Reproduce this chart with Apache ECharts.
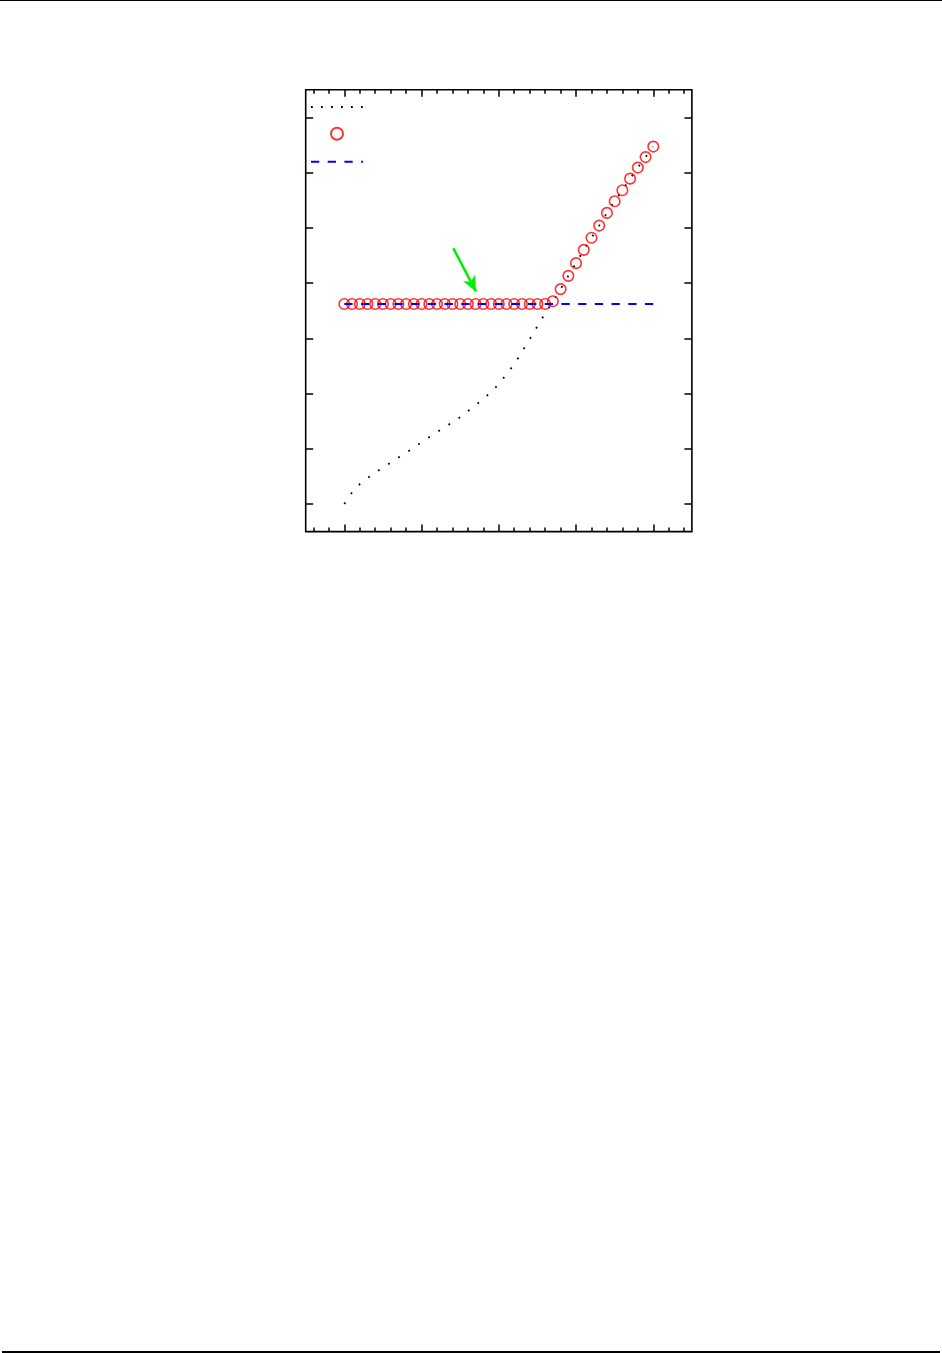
<!DOCTYPE html>
<html>
<head>
<meta charset="utf-8">
<script src="https://cdn.jsdelivr.net/npm/echarts@6/dist/echarts.min.js"></script>
<style>
  html, body { margin: 0; padding: 0; background: #fff; }
  #wrap { position: relative; width: 942px; height: 1353px; overflow: hidden; }
  #chart { position: absolute; left: 0; top: 0; width: 942px; height: 1353px; }
  #topRule { position: absolute; left: 0; top: 0; width: 942px; height: 1px; background: #000; }
  #bottomRule { position: absolute; left: 2px; top: 1351px; width: 938px; height: 2px; background: #000; }
</style>
</head>
<body>
<div id="wrap">
  <div id="chart"></div>
  <div id="topRule"></div>
  <div id="bottomRule"></div>
</div>
<script>
// ---- data ----
const xValues = [0,1,2,3,4,5,6,7,8,9,10,11,12,13,14,15,16,17,18,19,20,
                 21,22,23,24,25,26,27,28,29,30,31,32,33,34,35,36,37,38,39,40];
const curveValues = [0.00,0.21,0.36,0.47,0.57,0.66,0.75,0.84,0.93,1.02,1.12,
                     1.21,1.30,1.39,1.48,1.57,1.68,1.79,1.90,2.03,2.17,
                     2.35,2.53,2.76,2.98,3.22,3.45,3.67,3.89,4.13,4.36,
                     4.60,4.82,5.04,5.27,5.48,5.68,5.89,6.09,6.28,6.47];
const circleValues = [3.62,3.62,3.62,3.62,3.62,3.62,3.62,3.62,3.62,3.62,3.62,
                      3.62,3.62,3.62,3.62,3.62,3.62,3.62,3.62,3.62,3.62,
                      3.62,3.62,3.62,3.62,3.62,3.62,3.67,3.89,4.13,4.36,
                      4.60,4.82,5.04,5.27,5.48,5.68,5.89,6.09,6.28,6.47];
const levelX = [0, 40];
const levelY = [3.62, 3.62];
const arrowFrom = [14.11, 4.63];
const arrowTo = [17.05, 3.847];
const xMajorTicks = [0, 10, 20, 30, 40];
const xMinorTicks = [-4,-2,0,2,4,6,8,10,12,14,16,18,20,22,24,26,28,30,32,34,36,38,40,42,44];
const yTicks = [0, 1, 2, 3, 4, 5, 6, 7];
const xRange = [-5, 45];
const yRange = [-0.5, 7.5];
const seriesNames = ['curve', 'points', 'level'];

const zip = (xs, ys) => xs.map((x, i) => [x, ys[i]]);

const chart = echarts.init(document.getElementById('chart'), null, { renderer: 'canvas' });

function xAxisCfg(position, ticks, len) {
  return {
    type: 'value', position: position, min: xRange[0], max: xRange[1],
    axisLine: { show: false, onZero: false },
    axisLabel: { show: false },
    splitLine: { show: false },
    axisTick: { show: true, inside: true, length: len, customValues: ticks,
                lineStyle: { color: '#000', width: 1.5 } }
  };
}
function yAxisCfg(position) {
  return {
    type: 'value', position: position, min: yRange[0], max: yRange[1],
    axisLine: { show: false, onZero: false },
    axisLabel: { show: false },
    splitLine: { show: false },
    axisTick: { show: true, inside: true, length: 7.5, customValues: yTicks,
                lineStyle: { color: '#000', width: 1.5 } }
  };
}

const hiddenSymbol = { color: 'rgba(0,0,0,0)', borderColor: 'rgba(0,0,0,0)', borderWidth: 0, opacity: 0 };

const option = {
  animation: false,
  backgroundColor: 'transparent',
  grid: {
    left: 305.7, top: 89.7, width: 386.2, height: 441.9,
    show: true, borderColor: '#000', borderWidth: 1.6, backgroundColor: 'transparent',
    containLabel: false
  },
  legend: {
    orient: 'vertical', left: 310, top: 101, padding: 0,
    itemWidth: 52, itemHeight: 12, itemGap: 15,
    formatter: function () { return ''; },
    selectedMode: false,
    data: [
      { name: seriesNames[0], lineStyle: { type: [1.8, 8.2] }, itemStyle: hiddenSymbol },
      { name: seriesNames[1] },
      { name: seriesNames[2], itemStyle: hiddenSymbol }
    ]
  },
  xAxis: [
    xAxisCfg('bottom', xMinorTicks, 4),
    xAxisCfg('bottom', xMajorTicks, 7),
    xAxisCfg('top', xMinorTicks, 4),
    xAxisCfg('top', xMajorTicks, 7)
  ],
  yAxis: [
    yAxisCfg('left'),
    yAxisCfg('right')
  ],
  series: [
    {
      name: seriesNames[0], type: 'line', xAxisIndex: 0, yAxisIndex: 0,
      data: zip(xValues, curveValues),
      showSymbol: false, symbol: 'none', smooth: false,
      lineStyle: { color: '#000', width: 1.8, type: [1.8, 10.2] },
      itemStyle: { color: '#000' },
      z: 2
    },
    {
      name: seriesNames[1], type: 'scatter', xAxisIndex: 0, yAxisIndex: 0,
      data: zip(xValues, circleValues),
      symbol: 'circle', symbolSize: 10.5,
      itemStyle: { color: 'rgba(255,255,255,0)', borderColor: '#ff0000', borderWidth: 1.6 },
      z: 3
    },
    {
      name: seriesNames[2], type: 'line', xAxisIndex: 0, yAxisIndex: 0,
      data: zip(levelX, levelY),
      showSymbol: false, symbol: 'none',
      lineStyle: { color: '#0000ff', width: 2, type: [8.3, 8.4] },
      itemStyle: { color: '#0000ff' },
      z: 4,
      markLine: {
        silent: true,
        symbol: ['none', 'arrow'],
        symbolSize: [10, 15],
        label: { show: false },
        lineStyle: { color: '#00ee00', width: 2.6, type: 'solid' },
        emphasis: { disabled: true },
        data: [[ { coord: arrowFrom }, { coord: arrowTo } ]]
      }
    }
  ]
};
chart.setOption(option);
</script>
</body>
</html>
